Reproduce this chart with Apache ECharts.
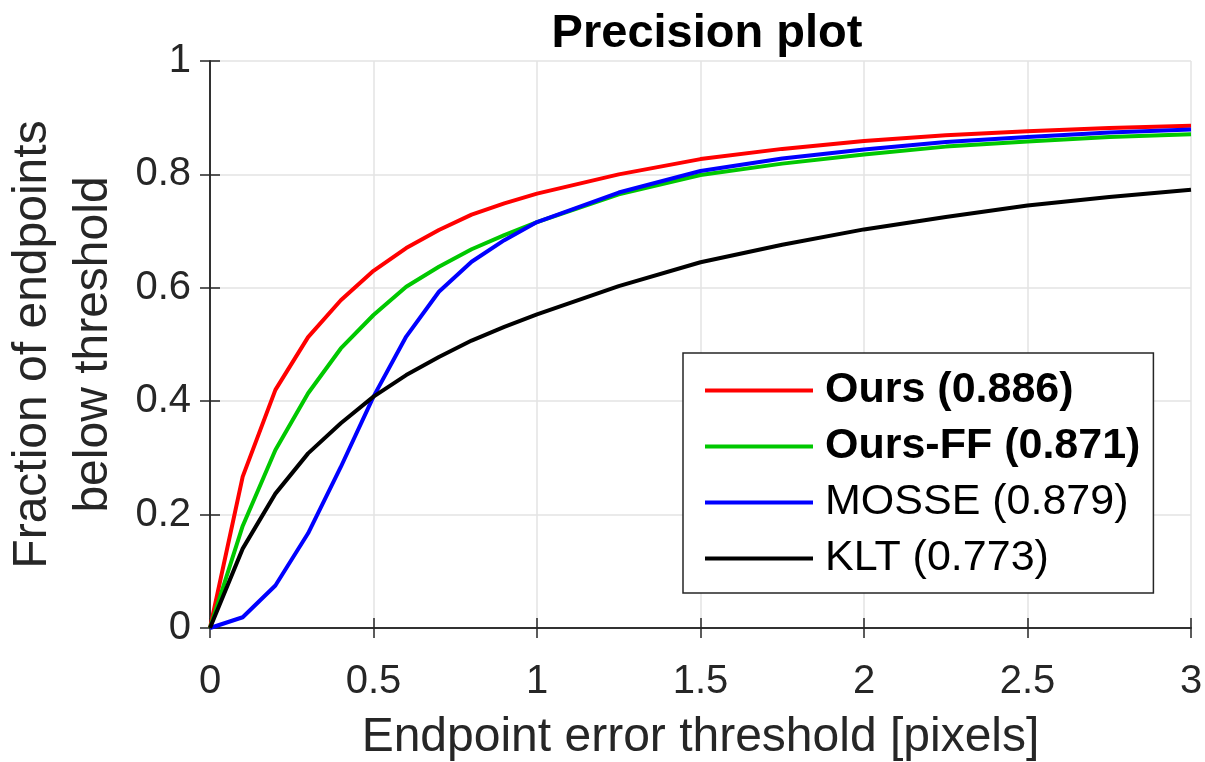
<!DOCTYPE html>
<html>
<head>
<meta charset="utf-8">
<script src="https://cdn.jsdelivr.net/npm/echarts@6/dist/echarts.min.js"></script>
<style>
  html, body { margin: 0; padding: 0; background: #fff; }
  #chart { width: 1205px; height: 762px; }
</style>
</head>
<body>
<div id="chart"></div>
<script>
// threshold in pixels (x axis)
const thresholds = [0, 0.1, 0.2, 0.3, 0.4, 0.5, 0.6, 0.7, 0.8, 0.9, 1.0, 1.25, 1.5, 1.75, 2.0, 2.25, 2.5, 2.75, 3.0];

const oursVals   = [0, 0.267, 0.420, 0.513, 0.578, 0.630, 0.670, 0.702, 0.729, 0.749, 0.766, 0.800, 0.827, 0.845, 0.859, 0.869, 0.876, 0.882, 0.886];
const oursFFVals = [0, 0.180, 0.314, 0.414, 0.493, 0.552, 0.602, 0.637, 0.668, 0.693, 0.716, 0.765, 0.799, 0.819, 0.835, 0.849, 0.858, 0.866, 0.871];
const mosseVals  = [0, 0.019, 0.075, 0.167, 0.284, 0.408, 0.514, 0.593, 0.646, 0.684, 0.716, 0.768, 0.806, 0.828, 0.844, 0.857, 0.866, 0.874, 0.879];
const kltVals    = [0, 0.140, 0.237, 0.308, 0.361, 0.408, 0.446, 0.478, 0.507, 0.531, 0.553, 0.603, 0.645, 0.676, 0.703, 0.725, 0.745, 0.760, 0.773];

const seriesNames = ["Ours (0.886)", "Ours-FF (0.871)", "MOSSE (0.879)", "KLT (0.773)"];
const boldNames = ["Ours (0.886)", "Ours-FF (0.871)"];
const seriesColors = ["#ff0000", "#00c800", "#0000ff", "#000000"];

const allVals = [oursVals, oursFFVals, mosseVals, kltVals];

const font = "Liberation Sans";
const ink = "#262626";

const chart = echarts.init(document.getElementById("chart"));

// pair up x and y for value axis
const series = allVals.map((vals, i) => ({
  name: seriesNames[i],
  type: "line",
  symbol: "none",
  lineStyle: { width: 4, color: seriesColors[i] },
  itemStyle: { color: seriesColors[i] },
  data: thresholds.map((t, k) => [t, vals[k]]),
  xAxisIndex: 0,
  yAxisIndex: 0,
}));

const option = {
  animation: false,
  backgroundColor: "#fff",
  title: {
    text: "Precision plot",
    left: 702,
    top: 6,
    textAlign: "center",
    textStyle: { fontFamily: font, fontSize: 47, fontWeight: "bold", color: "#000" },
  },
  grid: { left: 210, right: 14, top: 61, bottom: 134, containLabel: false, outerBoundsMode: "none" },
  legend: {
    orient: "vertical",
    left: 683,
    top: 353,
    padding: [16, 13, 13, 22],
    itemGap: 13,
    itemWidth: 108,
    itemHeight: 4,
    icon: "rect",
    borderColor: ink,
    borderWidth: 1.5,
    backgroundColor: "#fff",
    data: seriesNames,
    formatter: (name) => (boldNames.includes(name) ? "{b|" + name + "}" : "{n|" + name + "}"),
    textStyle: {
      padding: [0, 0, 0, 7],
      rich: {
        b: { fontFamily: font, fontSize: 43, fontWeight: "bold", color: "#000", lineHeight: 45 },
        n: { fontFamily: font, fontSize: 43, color: "#000", lineHeight: 45 },
      },
    },
  },
  xAxis: [
    {
      type: "value",
      min: 0,
      max: 3,
      interval: 0.5,
      name: "Endpoint error threshold [pixels]",
      nameLocation: "middle",
      nameGap: 86,
      nameTextStyle: { fontFamily: font, fontSize: 48, color: ink },
      axisLine: { show: true, lineStyle: { color: ink, width: 1.5 } },
      axisTick: { show: true, inside: true, length: 10, lineStyle: { color: ink, width: 1.5 } },
      axisLabel: { fontFamily: font, fontSize: 40, color: ink, margin: 34 },
      splitLine: { show: true, lineStyle: { color: "#e3e3e3", width: 1.5 } },
    },
    {
      type: "value",
      position: "top",
      min: 0,
      max: 3,
      interval: 0.5,
      axisLine: { show: true, lineStyle: { color: ink, width: 1.5 } },
      axisTick: { show: true, inside: true, length: 10, lineStyle: { color: ink, width: 1.5 } },
      axisLabel: { show: false },
      splitLine: { show: false },
    },
  ],
  yAxis: [
    {
      type: "value",
      min: 0,
      max: 1,
      interval: 0.2,
      name: "Fraction of endpoints\nbelow threshold",
      nameLocation: "middle",
      nameGap: 82,
      nameTextStyle: { fontFamily: font, fontSize: 48, color: ink, lineHeight: 61 },
      axisLine: { show: true, lineStyle: { color: ink, width: 1.5 } },
      axisTick: { show: true, inside: true, length: 10, lineStyle: { color: ink, width: 1.5 } },
      axisLabel: { fontFamily: font, fontSize: 40, color: ink, margin: 19 },
      splitLine: { show: true, lineStyle: { color: "#e3e3e3", width: 1.5 } },
    },
    {
      type: "value",
      position: "right",
      min: 0,
      max: 1,
      interval: 0.2,
      axisLine: { show: true, lineStyle: { color: ink, width: 1.5 } },
      axisTick: { show: true, inside: true, length: 10, lineStyle: { color: ink, width: 1.5 } },
      axisLabel: { show: false },
      splitLine: { show: false },
    },
  ],
  series: series,
};

chart.setOption(option);
</script>
</body>
</html>
